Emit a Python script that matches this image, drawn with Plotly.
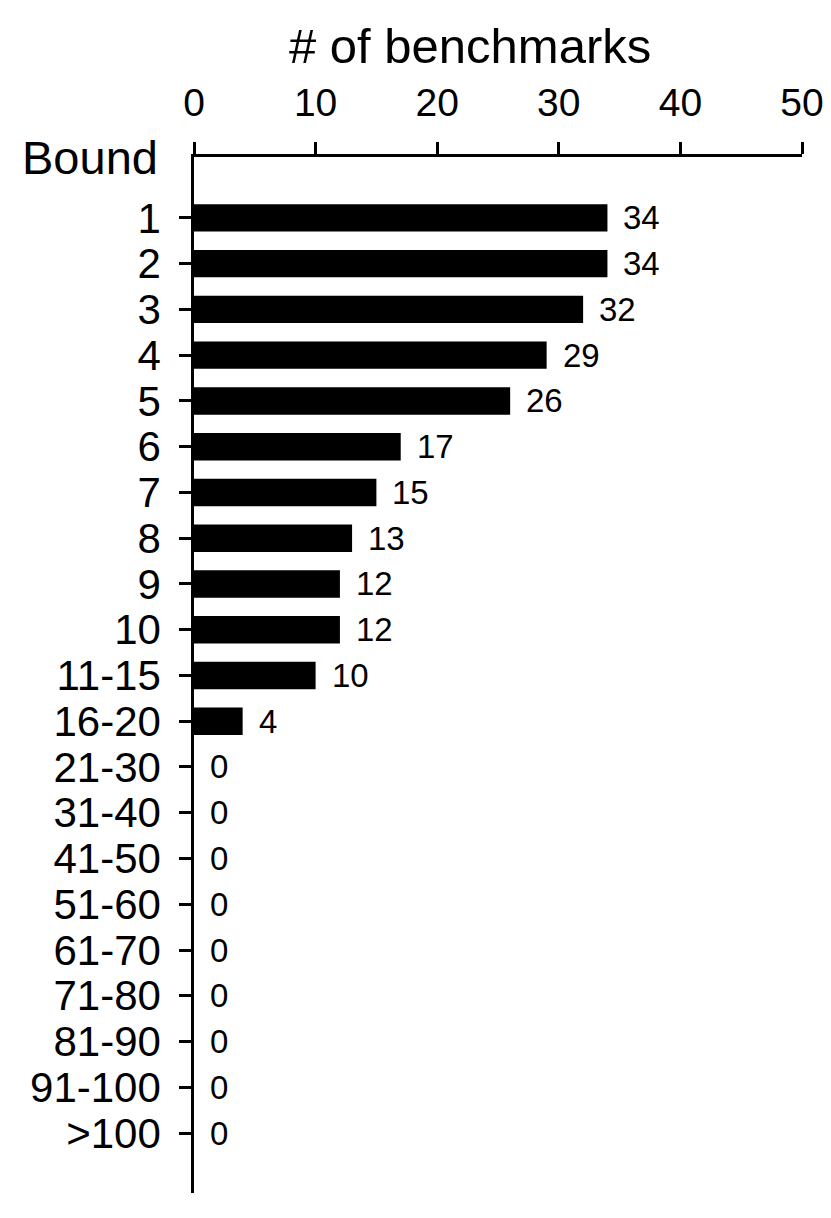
import plotly.graph_objects as go

bounds = ["1", "2", "3", "4", "5", "6", "7", "8", "9", "10", "11-15", "16-20",
          "21-30", "31-40", "41-50", "51-60", "61-70", "71-80", "81-90",
          "91-100", ">100"]
counts = [34, 34, 32, 29, 26, 17, 15, 13, 12, 12, 10, 4,
          0, 0, 0, 0, 0, 0, 0, 0, 0]
x_ticks = [0, 10, 20, 30, 40, 50]

FONT = "Liberation Sans"

fig = go.Figure()
fig.add_trace(go.Bar(
    x=counts, y=bounds, orientation="h",
    marker=dict(color="black", line=dict(width=0)),
    width=0.6, showlegend=False,
))

# value labels right of each bar (category index as y position)
for i, c in enumerate(counts):
    fig.add_annotation(x=c, y=i, text=str(c), showarrow=False,
                       xanchor="left", yanchor="middle", xshift=14,
                       font=dict(family=FONT, size=33, color="black"))

fig.add_annotation(xref="paper", yref="paper", x=0, y=1, text="Bound",
                   showarrow=False, xanchor="right", yanchor="middle",
                   xshift=-34, font=dict(family=FONT, size=47, color="black"))
fig.add_annotation(xref="paper", yref="paper", x=0.454, y=1, yshift=111,
                   text="# of benchmarks", showarrow=False,
                   xanchor="center", yanchor="middle",
                   font=dict(family=FONT, size=49, color="black"))

fig.update_xaxes(
    side="top", range=[0, 50], tickmode="array", tickvals=x_ticks,
    showline=True, linecolor="black", linewidth=2.5,
    ticks="outside", ticklen=12, tickwidth=2.5, tickcolor="black",
    ticklabelstandoff=11, automargin=False,
    showgrid=False, zeroline=False,
    tickfont=dict(family=FONT, size=39, color="black"),
)
fig.update_yaxes(
    type="category", categoryorder="array", categoryarray=bounds,
    tickmode="array", tickvals=bounds, ticktext=bounds,
    range=[21.31, -1.33],
    showline=True, linecolor="black", linewidth=2.5,
    ticks="outside", ticklen=12, tickwidth=2.5, tickcolor="black",
    ticklabelstandoff=10, automargin=False,
    showgrid=False, zeroline=False,
    tickfont=dict(family=FONT, size=42, color="black"),
)
fig.update_layout(
    width=831, height=1218,
    margin=dict(l=186, r=37, t=149, b=33),
    plot_bgcolor="white", paper_bgcolor="white",
    bargap=0.4,
)
fig.write_html("out.html")
